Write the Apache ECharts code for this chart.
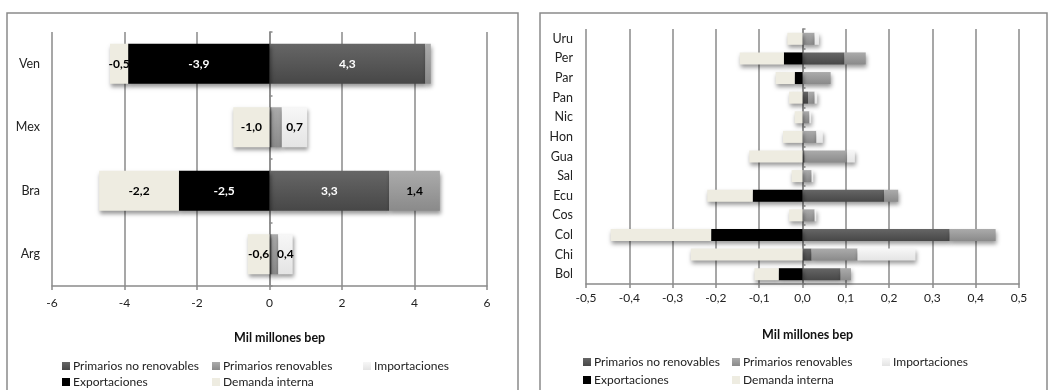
<!DOCTYPE html>
<html>
<head>
<meta charset="utf-8">
<script src="https://cdn.jsdelivr.net/npm/echarts@6/dist/echarts.min.js"></script>
<style>
  html, body { margin: 0; padding: 0; background: #fff; }
  #chart { width: 1049px; height: 390px; }
</style>
</head>
<body>
<div id="chart"></div>
<script>
// Energy balance, billion barrels of oil equivalent (bep)
const seriesNames = ['Primarios no renovables', 'Primarios renovables', 'Importaciones', 'Exportaciones', 'Demanda interna'];

// Larger producers (category axis runs bottom to top)
const leftCats = ['Arg', 'Bra', 'Mex', 'Ven'];
const leftNoRenov = [0.06, 3.3, 0.06, 4.3];
const leftRenov = [0.18, 1.4, 0.28, 0.15];
const leftImport = [0.4, 0, 0.7, 0];
const leftExport = [0, -2.5, 0, -3.9];
const leftDemand = [-0.6, -2.2, -1.0, -0.5];
const leftTicks = { min: -6, max: 6, interval: 2 };

// Smaller producers
const rightCats = ['Bol', 'Chi', 'Col', 'Cos', 'Ecu', 'Sal', 'Gua', 'Hon', 'Nic', 'Pan', 'Par', 'Per', 'Uru'];
const rightNoRenov = [0.088, 0.021, 0.34, 0, 0.189, 0, 0.005, 0, 0, 0.013, 0, 0.097, 0];
const rightRenov = [0.024, 0.106, 0.106, 0.028, 0.032, 0.021, 0.098, 0.032, 0.016, 0.015, 0.065, 0.049, 0.028];
const rightImport = [0, 0.134, 0, 0.004, 0, 0.004, 0.018, 0.015, 0.004, 0.006, 0, 0, 0.01];
const rightExport = [-0.055, 0, -0.211, 0, -0.115, 0, 0, 0, 0, 0, -0.018, -0.043, 0];
const rightDemand = [-0.056, -0.258, -0.232, -0.031, -0.105, -0.025, -0.123, -0.045, -0.018, -0.031, -0.044, -0.102, -0.035];
const rightTicks = { min: -0.5, max: 0.5, interval: 0.1 };

const FONT = 'Lato, "Liberation Sans", sans-serif';
const GRID_COLOR = '#8a8a8a';

function vgrad(a, b) {
  return new echarts.graphic.LinearGradient(0, 0, 0, 1, [
    { offset: 0, color: a }, { offset: 1, color: b }
  ]);
}
const fills = [
  vgrad('#666666', '#474747'),
  vgrad('#ababab', '#8a8a8a'),
  vgrad('#f7f7f7', '#e4e4e4'),
  '#000000',
  '#eeece1'
];
const labelColors = ['#ffffff', '#000000', '#000000', '#ffffff', '#000000'];

const comma = v => (Math.round(v * 10) / 10).toFixed(1).replace('.', ',');

function makeSeries(values, xi, yi, stack, barWidth, withLabels) {
  return values.map((data, i) => ({
    name: seriesNames[i],
    type: 'bar',
    stack: stack,
    xAxisIndex: xi,
    yAxisIndex: yi,
    barWidth: barWidth,
    data: data,
    itemStyle: {
      color: fills[i],
      shadowColor: 'rgba(0,0,0,0.4)',
      shadowBlur: 4,
      shadowOffsetX: 1,
      shadowOffsetY: 3
    },
    label: {
      show: withLabels,
      position: 'inside',
      color: labelColors[i],
      fontFamily: FONT,
      fontWeight: 'bold',
      fontSize: 12,
      formatter: p => Math.abs(p.value) >= 0.35 ? comma(p.value) : ''
    },
    emphasis: { disabled: true }
  }));
}

function valueAxis(gridIndex, ticks, fmt, margin) {
  return {
    type: 'value',
    gridIndex: gridIndex,
    min: ticks.min,
    max: ticks.max,
    interval: ticks.interval,
    axisLine: { show: true, onZero: false, lineStyle: { color: GRID_COLOR, width: 1.5 } },
    axisTick: { show: true, length: 4, lineStyle: { color: GRID_COLOR, width: 1.5 } },
    splitLine: { show: true, lineStyle: { color: GRID_COLOR, width: 1.5 } },
    axisLabel: { color: '#222', fontFamily: FONT, fontSize: 12, margin: margin, formatter: fmt }
  };
}

function catAxis(gridIndex, cats, margin) {
  return {
    type: 'category',
    gridIndex: gridIndex,
    data: cats,
    axisLine: { show: false, onZero: false },
    axisTick: { show: false },
    axisLabel: { color: '#222', fontFamily: FONT, fontSize: 12.5, margin: margin }
  };
}

// Category-boundary ticks along the zero line
function zeroTickAxis(gridIndex, cats) {
  return {
    type: 'category',
    gridIndex: gridIndex,
    data: cats,
    axisLine: { show: true, onZero: true, lineStyle: { color: GRID_COLOR, width: 1.5 } },
    axisTick: { show: true, length: 3, lineStyle: { color: GRID_COLOR, width: 1.5 } },
    axisLabel: { show: false }
  };
}

function legendItem(name, x, y) {
  return {
    data: [name],
    left: x,
    top: y,
    icon: 'rect',
    itemWidth: 8,
    itemHeight: 8,
    itemGap: 0,
    padding: 0,
    selectedMode: false,
    itemStyle: { shadowBlur: 0, shadowOffsetX: 0, shadowOffsetY: 0 },
    textStyle: { fontFamily: FONT, fontSize: 12, color: '#222', padding: [0, 0, 0, -2] }
  };
}

const chart = echarts.init(document.getElementById('chart'), null, { renderer: 'canvas' });

chart.setOption({
  animation: false,
  backgroundColor: '#ffffff',
  grid: [
    { left: 52, top: 32, width: 435, height: 254 },
    { left: 586, top: 29, width: 433, height: 255 }
  ],
  xAxis: [
    valueAxis(0, leftTicks, v => String(v).replace('.', ','), 11),
    valueAxis(1, rightTicks, v => comma(v), 8)
  ],
  yAxis: [
    catAxis(0, leftCats, 12),
    zeroTickAxis(0, leftCats),
    catAxis(1, rightCats, 13),
    zeroTickAxis(1, rightCats)
  ],
  legend: [
    legendItem(seriesNames[0], 62, 360),
    legendItem(seriesNames[1], 212, 360),
    legendItem(seriesNames[2], 363, 360),
    legendItem(seriesNames[3], 62, 376),
    legendItem(seriesNames[4], 212, 376),
    legendItem(seriesNames[0], 583, 356),
    legendItem(seriesNames[1], 732, 356),
    legendItem(seriesNames[2], 882, 356),
    legendItem(seriesNames[3], 583, 374),
    legendItem(seriesNames[4], 732, 374)
  ],
  graphic: [
    { type: 'rect', shape: { x: 7, y: 13, width: 511, height: 390 }, style: { fill: 'none', stroke: GRID_COLOR, lineWidth: 1.5 }, silent: true, z: -1 },
    { type: 'rect', shape: { x: 540, y: 13, width: 507, height: 390 }, style: { fill: 'none', stroke: GRID_COLOR, lineWidth: 1.5 }, silent: true, z: -1 },
    { type: 'text', left: 234, top: 331, style: { text: 'Mil millones bep', font: 'bold 12.5px ' + FONT, fill: '#111' } },
    { type: 'text', left: 762, top: 328, style: { text: 'Mil millones bep', font: 'bold 12.5px ' + FONT, fill: '#111' } }
  ],
  series: [
    ...makeSeries([leftNoRenov, leftRenov, leftImport, leftExport, leftDemand], 0, 0, 'left', 40, true),
    ...makeSeries([rightNoRenov, rightRenov, rightImport, rightExport, rightDemand], 1, 2, 'right', 12, false)
  ]
});
</script>
</body>
</html>
